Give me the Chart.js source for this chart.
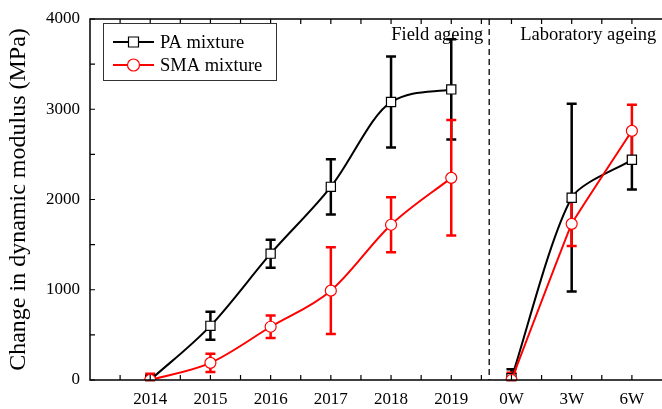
<!DOCTYPE html>
<html>
<head>
<meta charset="utf-8">
<script src="https://cdn.jsdelivr.net/npm/chart.js@4"></script>
<style>
  body { margin: 0; background: #fff; }
  #wrap { width: 662px; height: 409px; }
</style>
</head>
<body>
<div id="wrap"><canvas id="c" width="662" height="409"></canvas></div>
<script>
// categories
const fieldLabels = ['2014', '2015', '2016', '2017', '2018', '2019'];
const labLabels = ['0W', '3W', '6W'];

// PA mixture
const paField = [0, 600, 1400, 2140, 3080, 3220];
const paFieldErr = [40, 155, 155, 305, 505, 555];
const paLab = [20, 2020, 2440];
const paLabErr = [100, 1040, 330];

// SMA mixture
const smaField = [0, 190, 590, 990, 1720, 2240];
const smaFieldErr = [70, 100, 125, 480, 305, 640];
const smaLab = [0, 1730, 2760];
const smaLabErr = [80, 245, 290];

const yTicks = [0, 1000, 2000, 3000, 4000];
const serif = '"Liberation Serif", "Times New Roman", serif';

const allLabels = fieldLabels.concat(labLabels);
const toPts = (vals, start) => vals.map((v, i) => ({ x: i + start, y: v }));

function makeSet(label, vals, err, start, color, marker, mode, tension, order) {
    return {
        label: label,
        data: toPts(vals, start),
        err: err,
        order: order,
        borderColor: color,
        borderWidth: 2,
        cubicInterpolationMode: mode,
        tension: tension,
        pointStyle: marker,
        pointRadius: marker === 'rect' ? 6.5 : 5.5,
        pointBackgroundColor: '#fff',
        pointBorderColor: color,
        pointBorderWidth: 1.2
    };
}

const datasets = [
    makeSet('PA mixture', paField, paFieldErr, 1, '#000', 'rect', 'monotone', 0.4, 1),
    makeSet('SMA mixture', smaField, smaFieldErr, 1, '#ff0000', 'circle', 'monotone', 0.4, 0),
    makeSet('PA mixture', paLab, paLabErr, 7, '#000', 'rect', 'default', 0.25, 1),
    makeSet('SMA mixture', smaLab, smaLabErr, 7, '#ff0000', 'circle', 'default', 0.05, 0)
];

// error bars, drawn under the markers
const errorBars = {
    id: 'errorBars',
    beforeDatasetsDraw(chart) {
        const ctx = chart.ctx;
        const xs = chart.scales.x, ys = chart.scales.y;
        ctx.save();
        chart.data.datasets.forEach(ds => {
            ctx.strokeStyle = ds.borderColor;
            ctx.lineWidth = 2.5;
            ds.data.forEach((p, i) => {
                const x = xs.getPixelForValue(p.x);
                const y1 = ys.getPixelForValue(Math.max(0, p.y - ds.err[i]));
                const y2 = ys.getPixelForValue(p.y + ds.err[i]);
                ctx.beginPath();
                ctx.moveTo(x, y1); ctx.lineTo(x, y2);
                ctx.moveTo(x - 5, y1); ctx.lineTo(x + 5, y1);
                ctx.moveTo(x - 5, y2); ctx.lineTo(x + 5, y2);
                ctx.stroke();
            });
        });
        ctx.restore();
    }
};

// frame, inward ticks, divider, labels and legend
const decor = {
    id: 'decor',
    afterDraw(chart) {
        const ctx = chart.ctx;
        const a = chart.chartArea;
        const xs = chart.scales.x, ys = chart.scales.y;
        ctx.save();
        ctx.strokeStyle = '#000';
        ctx.lineWidth = 1.5;
        ctx.beginPath();
        ctx.moveTo(a.right, a.top); ctx.lineTo(a.left, a.top);
        ctx.lineTo(a.left, a.bottom); ctx.lineTo(a.right, a.bottom);
        ctx.stroke();

        ctx.lineWidth = 1.2;
        ctx.beginPath();
        for (let v = 0; v <= 4000; v += 500) {
            const y = ys.getPixelForValue(v);
            ctx.moveTo(a.left, y); ctx.lineTo(a.left + 5, y);
        }
        for (let v = 0.5; v < 9.5; v += 0.5) {
            const x = xs.getPixelForValue(v);
            ctx.moveTo(x, a.bottom); ctx.lineTo(x, a.bottom - 5);
            ctx.moveTo(x, a.top); ctx.lineTo(x, a.top + 5);
        }
        ctx.stroke();

        // dashed divider
        const dx = xs.getPixelForValue(6.63);
        ctx.setLineDash([6, 4]);
        ctx.lineWidth = 1.3;
        ctx.beginPath();
        ctx.moveTo(dx, a.top); ctx.lineTo(dx, a.bottom);
        ctx.stroke();
        ctx.setLineDash([]);

        ctx.fillStyle = '#000';
        ctx.font = '18.5px ' + serif;
        ctx.textBaseline = 'middle';
        ctx.textAlign = 'right';
        ctx.fillText('Field ageing', dx - 6, a.top + 16);
        ctx.textAlign = 'left';
        ctx.fillText('Laboratory ageing', dx + 31, a.top + 16);

        // legend
        ctx.lineWidth = 1;
        ctx.strokeStyle = '#333';
        ctx.strokeRect(103.5, 23.5, 173, 57);
        const items = chart.data.datasets.slice(0, 2);
        items.forEach((ds, i) => {
            const y = 42 + i * 23;
            ctx.strokeStyle = ds.borderColor;
            ctx.lineWidth = 2;
            ctx.beginPath();
            ctx.moveTo(113, y); ctx.lineTo(154, y);
            ctx.stroke();
            ctx.fillStyle = '#fff';
            ctx.lineWidth = 1.2;
            ctx.beginPath();
            if (ds.pointStyle === 'rect') ctx.rect(128.5, y - 5, 10, 10);
            else ctx.arc(133.5, y, 6, 0, Math.PI * 2);
            ctx.fill();
            ctx.stroke();
            ctx.fillStyle = '#000';
            ctx.font = '18.5px ' + serif;
            ctx.textAlign = 'left';
            ctx.fillText(ds.label, 160, y + 1);
        });
        ctx.restore();
    }
};

new Chart(document.getElementById('c'), {
    type: 'line',
    data: { datasets: datasets },
    plugins: [errorBars, decor],
    options: {
        responsive: false,
        animation: false,
        layout: { autoPadding: false, padding: { top: 19, right: 0, left: 0, bottom: 0 } },
        plugins: { legend: { display: false }, tooltip: { enabled: false } },
        scales: {
            x: {
                type: 'linear',
                min: 0,
                max: 9.5,
                afterFit: s => { s.height = 29; s.paddingLeft = 0; s.paddingRight = 0; },
                afterBuildTicks: s => { s.ticks = allLabels.map((l, i) => ({ value: i + 1 })); },
                grid: { display: false, drawTicks: false },
                border: { display: false },
                ticks: {
                    padding: 9,
                    color: '#000',
                    font: { family: serif, size: 17 },
                    maxRotation: 0,
                    autoSkip: false,
                    callback: v => allLabels[v - 1] || ''
                }
            },
            y: {
                min: 0,
                max: 4000,
                afterFit: s => { s.width = 90; s.paddingTop = 0; s.paddingBottom = 0; },
                afterBuildTicks: s => { s.ticks = yTicks.map(v => ({ value: v })); },
                grid: { display: false, drawTicks: false },
                border: { display: false },
                ticks: {
                    padding: 10,
                    color: '#000',
                    font: { family: serif, size: 17 },
                    callback: v => String(v)
                },
                title: {
                    display: true,
                    text: 'Change in dynamic modulus (MPa)',
                    color: '#000',
                    font: { family: serif, size: 24 },
                    padding: { top: 4, bottom: 0 }
                }
            }
        }
    }
});
</script>
</body>
</html>
